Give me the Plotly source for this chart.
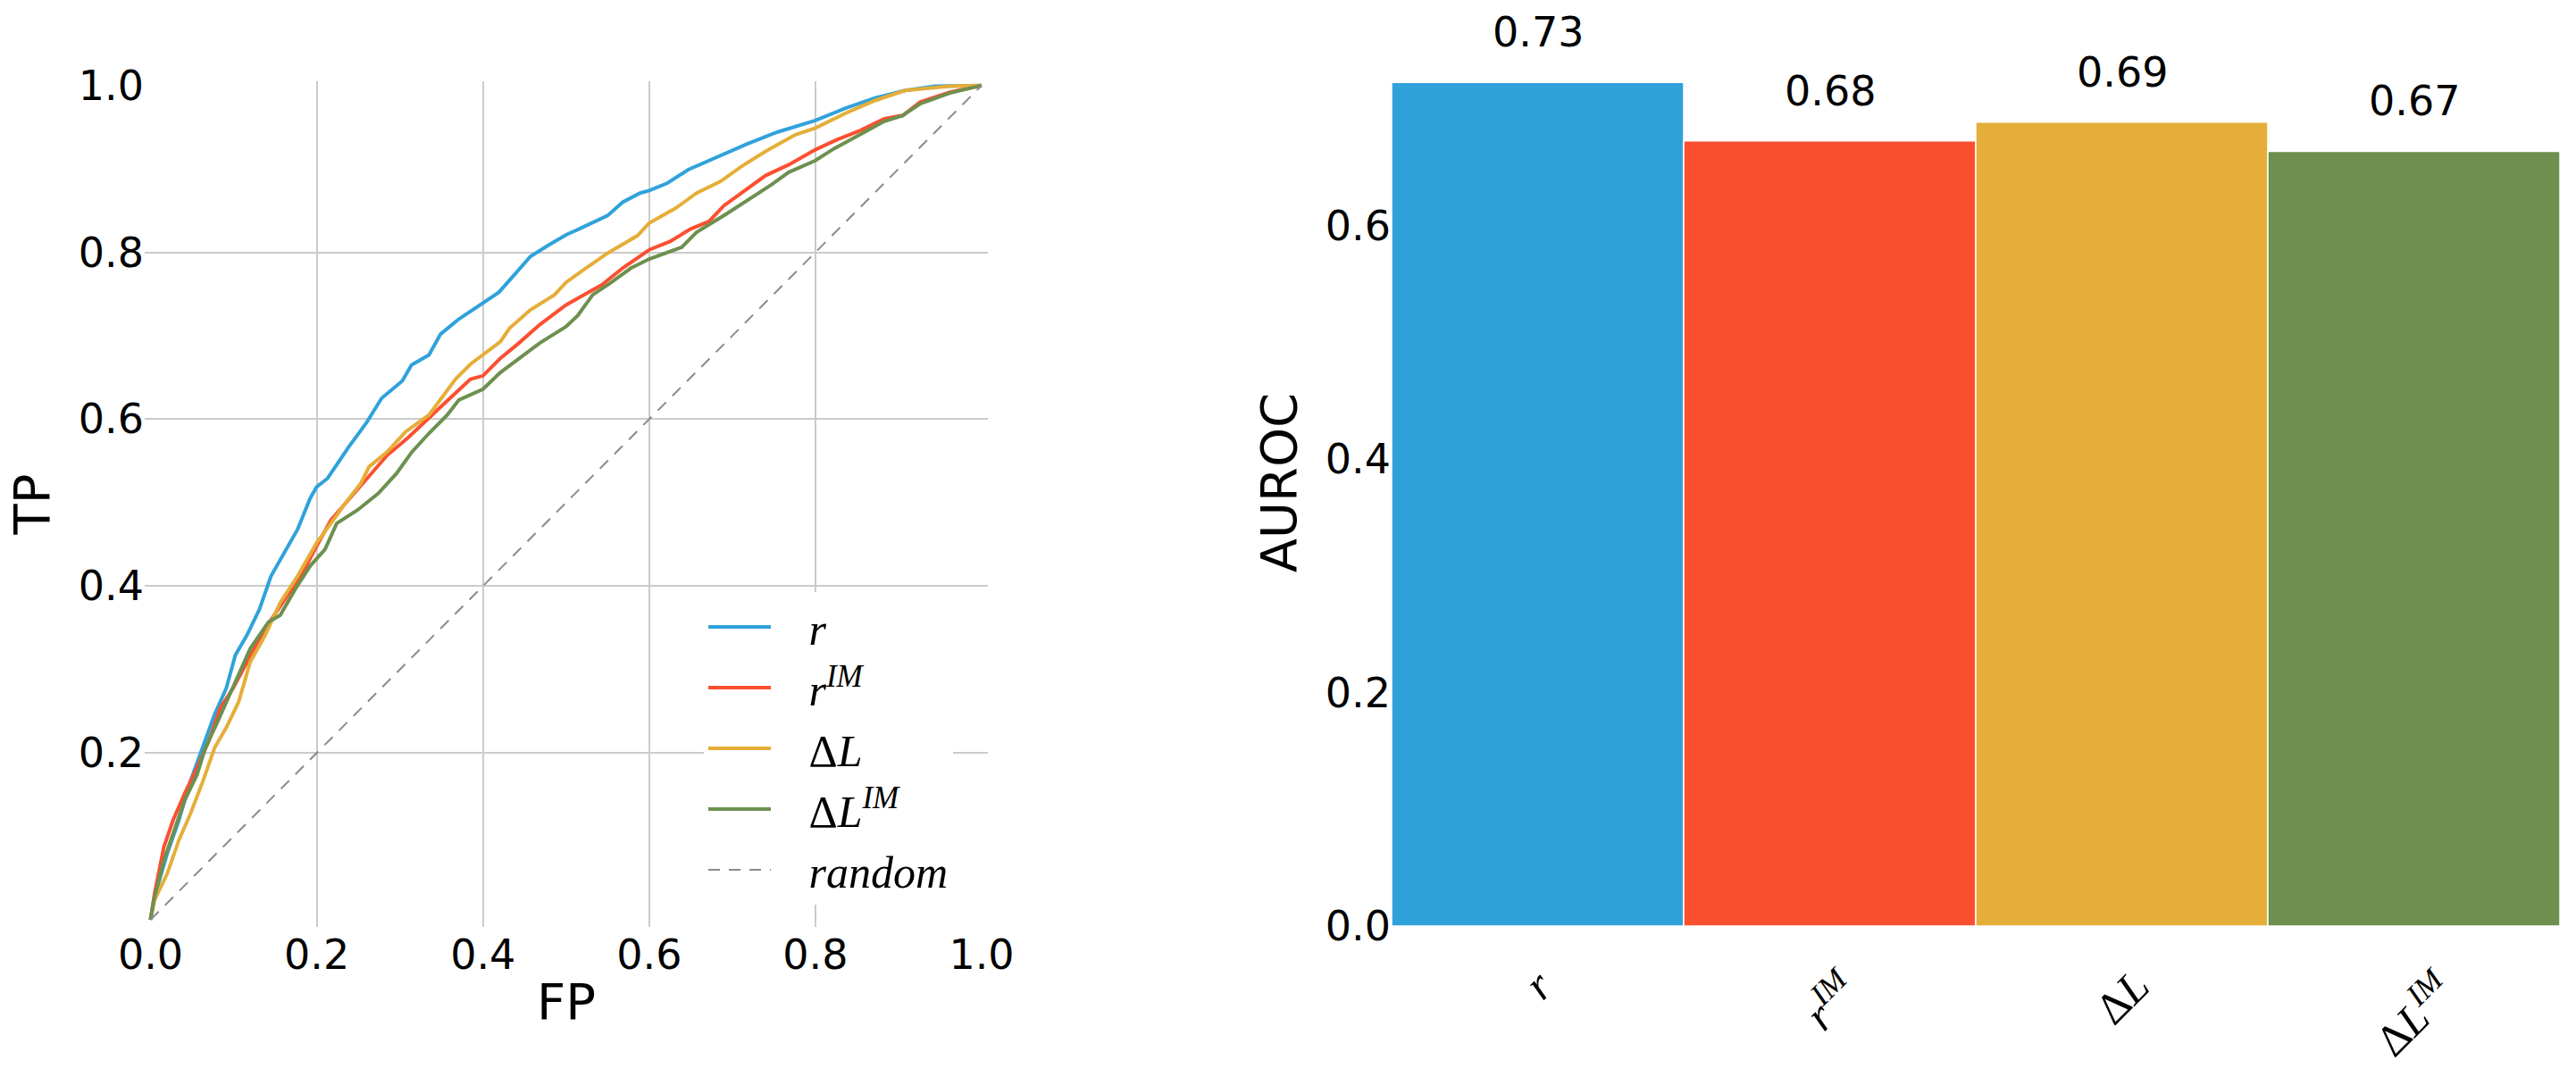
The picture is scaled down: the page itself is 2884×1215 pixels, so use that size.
import plotly.graph_objects as go

W, H = 2884, 1215

# ---------------- data ----------------
series_names = ["<i>r</i>", "<i>r</i><sup><i>IM</i></sup>", "Δ<i>L</i>", "Δ<i>L</i><sup><i>IM</i></sup>"]
colors = ["#30a2da", "#fc4f30", "#e5ae38", "#6d904f"]

r_fp = [0, 0.005, 0.02, 0.034, 0.048, 0.063, 0.077, 0.091, 0.102, 0.116, 0.131, 0.145, 0.163, 0.177,
        0.192, 0.2, 0.213, 0.238, 0.26, 0.278, 0.303, 0.314, 0.335, 0.349, 0.371, 0.4, 0.419, 0.435,
        0.457, 0.478, 0.5, 0.518, 0.55, 0.568, 0.589, 0.6, 0.622, 0.647, 0.682, 0.718, 0.754, 0.8,
        0.837, 0.872, 0.908, 0.944, 1.0]
r_tp = [0, 0.028, 0.079, 0.119, 0.166, 0.206, 0.246, 0.277, 0.317, 0.341, 0.372, 0.412, 0.444, 0.468,
        0.505, 0.519, 0.529, 0.566, 0.596, 0.625, 0.646, 0.665, 0.677, 0.702, 0.72, 0.74, 0.752, 0.77,
        0.795, 0.808, 0.821, 0.829, 0.844, 0.86, 0.871, 0.874, 0.883, 0.899, 0.914, 0.93, 0.944, 0.958,
        0.973, 0.985, 0.994, 0.999, 1.0]

rim_fp = [0, 0.005, 0.016, 0.027, 0.041, 0.056, 0.07, 0.084, 0.099, 0.12, 0.138, 0.159, 0.181, 0.2,
          0.217, 0.238, 0.263, 0.285, 0.31, 0.335, 0.357, 0.385, 0.4, 0.421, 0.443, 0.468, 0.5, 0.518,
          0.543, 0.568, 0.6, 0.625, 0.65, 0.672, 0.69, 0.711, 0.74, 0.768, 0.8, 0.826, 0.854, 0.883,
          0.905, 0.926, 0.962, 1.0]
rim_tp = [0, 0.032, 0.087, 0.119, 0.151, 0.182, 0.214, 0.254, 0.277, 0.317, 0.349, 0.38, 0.412, 0.448,
          0.479, 0.503, 0.532, 0.557, 0.578, 0.602, 0.622, 0.648, 0.652, 0.673, 0.691, 0.713, 0.737, 0.747,
          0.761, 0.781, 0.803, 0.813, 0.828, 0.837, 0.856, 0.871, 0.892, 0.905, 0.923, 0.935, 0.946, 0.96,
          0.964, 0.98, 0.992, 1.0]

dl_fp = [0, 0.005, 0.02, 0.034, 0.048, 0.063, 0.077, 0.091, 0.106, 0.12, 0.138, 0.156, 0.177, 0.2,
         0.217, 0.235, 0.253, 0.263, 0.285, 0.307, 0.335, 0.367, 0.385, 0.4, 0.421, 0.432, 0.457, 0.486,
         0.5, 0.518, 0.55, 0.586, 0.6, 0.632, 0.657, 0.686, 0.711, 0.74, 0.776, 0.8, 0.837, 0.872, 0.908,
         0.962, 1.0]
dl_tp = [0, 0.024, 0.055, 0.095, 0.127, 0.166, 0.206, 0.23, 0.261, 0.309, 0.341, 0.38, 0.412, 0.452,
         0.475, 0.5, 0.523, 0.543, 0.561, 0.585, 0.605, 0.648, 0.666, 0.677, 0.693, 0.709, 0.731, 0.749,
         0.764, 0.777, 0.799, 0.82, 0.835, 0.853, 0.871, 0.885, 0.903, 0.921, 0.941, 0.949, 0.967, 0.982,
         0.994, 0.999, 1.0]

dlim_fp = [0, 0.004, 0.016, 0.03, 0.041, 0.056, 0.066, 0.081, 0.095, 0.106, 0.12, 0.142, 0.156, 0.174,
           0.192, 0.21, 0.224, 0.249, 0.274, 0.296, 0.314, 0.335, 0.357, 0.371, 0.4, 0.421, 0.45, 0.468,
           0.5, 0.514, 0.532, 0.553, 0.578, 0.6, 0.639, 0.657, 0.693, 0.718, 0.747, 0.768, 0.8, 0.822,
           0.854, 0.883, 0.905, 0.926, 0.962, 1.0]
dlim_tp = [0, 0.024, 0.071, 0.111, 0.143, 0.174, 0.206, 0.238, 0.269, 0.293, 0.325, 0.357, 0.365, 0.396,
           0.424, 0.444, 0.475, 0.491, 0.511, 0.535, 0.56, 0.583, 0.605, 0.623, 0.636, 0.656, 0.677, 0.691,
           0.711, 0.724, 0.749, 0.763, 0.781, 0.792, 0.806, 0.824, 0.846, 0.862, 0.881, 0.896, 0.91, 0.924,
           0.941, 0.957, 0.964, 0.978, 0.991, 1.0]

random_fp = [0, 1]
random_tp = [0, 1]

roc_tick_vals = [0.0, 0.2, 0.4, 0.6, 0.8, 1.0]
roc_tick_text = ["0.0", "0.2", "0.4", "0.6", "0.8", "1.0"]
roc_ytick_vals = [0.2, 0.4, 0.6, 0.8, 1.0]
roc_ytick_text = ["0.2", "0.4", "0.6", "0.8", "1.0"]
grid_vals = [0.2, 0.4, 0.6, 0.8]

bar_categories = ["r", "rIM", "dL", "dLIM"]
bar_labels = series_names
auroc_values = [0.723, 0.673, 0.689, 0.664]
auroc_text = ["0.73", "0.68", "0.69", "0.67"]
bar_tick_vals = [0.0, 0.2, 0.4, 0.6]
bar_tick_text = ["0.0", "0.2", "0.4", "0.6"]

# ---------------- figure ----------------
def px(x):
    return x / W


def py(y):
    return 1 - y / H


PAD = "&nbsp;&nbsp;&nbsp;"

fig = go.Figure()

roc = [(r_fp, r_tp), (rim_fp, rim_tp), (dl_fp, dl_tp), (dlim_fp, dlim_tp)]
for i, (fx, fy) in enumerate(roc):
    fig.add_trace(go.Scatter(x=fx, y=fy, mode="lines", name=PAD + series_names[i],
                             line=dict(color=colors[i], width=4),
                             xaxis="x", yaxis="y"))

fig.add_trace(go.Scatter(x=random_fp, y=random_tp, mode="lines", name=PAD + "<i>random</i>",
                         line=dict(color="#8a8a8a", width=2, dash="13px,10px"),
                         xaxis="x3", yaxis="y3"))

fig.add_trace(go.Bar(x=bar_categories, y=auroc_values,
                     marker=dict(color=colors, line=dict(color="white", width=1.5)),
                     width=1.0, xaxis="x2", yaxis="y2", showlegend=False))

tickfont = dict(family="DejaVu Sans", size=46, color="black")
titlefont = dict(family="DejaVu Sans", size=56, color="black")

x_rng = [-0.007, 1.0075]
y_rng = [-0.0086, 1.005]

common = dict(zeroline=False, showline=False, ticks="", automargin=False)

fig.update_layout(
    template="none",
    width=W, height=H,
    margin=dict(l=0, r=0, t=0, b=0, autoexpand=False),
    paper_bgcolor="white", plot_bgcolor="white",
    showlegend=True,
    legend=dict(x=px(788), y=py(663), xanchor="left", yanchor="top",
                bgcolor="white", borderwidth=0,
                font=dict(family="Liberation Serif", size=50, color="black"),
                itemwidth=70),
    xaxis=dict(domain=[px(162), px(1106)], range=x_rng, anchor="y",
               tickvals=grid_vals, showticklabels=False, showgrid=True,
               gridcolor="#cbcbcb", gridwidth=2, **common),
    yaxis=dict(domain=[py(1038), py(91)], range=y_rng, anchor="x",
               tickvals=grid_vals, showticklabels=False, showgrid=True,
               gridcolor="#cbcbcb", gridwidth=2, **common),
    xaxis3=dict(overlaying="x", anchor="y", range=x_rng, tickvals=roc_tick_vals,
                ticktext=roc_tick_text, showgrid=False, tickfont=tickfont,
                title=dict(text="FP", font=titlefont, standoff=6), **common),
    yaxis3=dict(overlaying="y", anchor="x", range=y_rng, tickvals=roc_ytick_vals,
                ticktext=roc_ytick_text, showgrid=False, tickfont=tickfont,
                title=dict(text="TP", font=titlefont, standoff=14), **common),
    xaxis2=dict(domain=[px(1558), px(2866)], range=[-0.5, 3.5], anchor="y2",
                showticklabels=False, showgrid=False, **common),
    yaxis2=dict(domain=[py(1037), py(44)], range=[0, 0.76], anchor="x2",
                tickvals=bar_tick_vals, ticktext=bar_tick_text, showgrid=False,
                tickfont=tickfont,
                title=dict(text="AUROC", font=titlefont, standoff=14), **common),
)

for cat, v, t in zip(bar_categories, auroc_values, auroc_text):
    fig.add_annotation(x=cat, y=v, xref="x2", yref="y2", text=t, showarrow=False,
                       yanchor="middle", xanchor="center", yshift=56,
                       font=dict(family="DejaVu Sans", size=46, color="black"))

for cat, lab in zip(bar_categories, bar_labels):
    fig.add_annotation(x=cat, y=0, xref="x2", yref="y2", text=lab, showarrow=False,
                       textangle=-45, yanchor="top", xanchor="center", yshift=-36,
                       font=dict(family="Liberation Serif", size=50, color="black"))

fig.write_html("out.html")
